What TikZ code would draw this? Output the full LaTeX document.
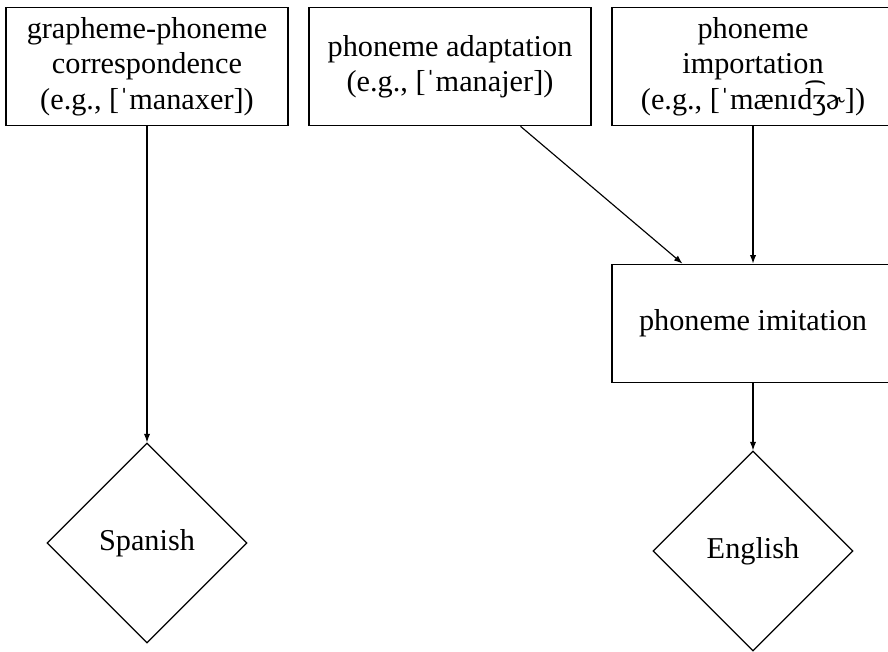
\documentclass[tikz,border=0pt]{standalone}
\usepackage{fontspec}
\setmainfont{Liberation Serif}
\usetikzlibrary{positioning,arrows.meta,shapes.geometric}

\begin{document}
\begin{tikzpicture}[x=0.35pt,y=-0.35pt,>={Latex[length=3pt,width=2.2pt]},
  box/.style={draw,align=center,minimum width=98.7pt,minimum height=41.5pt,inner sep=2pt,font=\fontsize{10.6pt}{12.4pt}\selectfont},
  lang/.style={draw,diamond,aspect=1,minimum width=70pt,minimum height=70pt,inner sep=0pt,font=\fontsize{10.6pt}{12.4pt}\selectfont}]
\useasboundingbox (0,0) rectangle (888,651);
% routes
\node[box] (gpc)    at (147,66.5) {grapheme-phoneme\\correspondence\\(e.g., [ˈmanaxer])};
\node[box] (adapt)  at (450,66.5) {phoneme adaptation\\(e.g., [ˈmanajer])};
\node[box] (import) at (753,66.5) {phoneme\\importation\\(e.g., [ˈmænɪd͡ʒɚ])};
\node[box] (imit)   at (753,323.5) {phoneme imitation};
% languages
\node[lang] (spa) at (147,543) {Spanish};
\node[lang] (eng) at (753,551) {English};
\draw[->] (gpc) -- (spa);
\draw[->] (adapt) -- (imit);
\draw[->] (import) -- (imit);
\draw[->] (imit) -- (eng);
\end{tikzpicture}
\end{document}
